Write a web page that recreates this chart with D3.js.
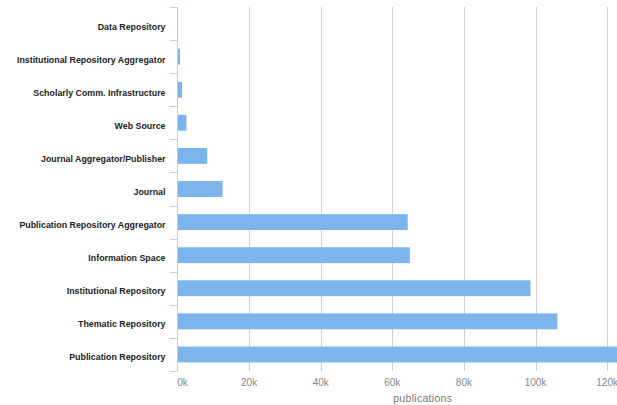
<!DOCTYPE html>
<html><head><meta charset="utf-8">
<script src="https://cdn.jsdelivr.net/npm/d3@7/dist/d3.min.js"></script>
<style>body{margin:0;background:#fff;overflow:hidden}svg{display:block}</style>
</head><body>
<svg id="c" width="617" height="405"></svg>
<script>
const categories = ["Data Repository","Institutional Repository Aggregator","Scholarly Comm. Infrastructure","Web Source","Journal Aggregator/Publisher","Journal","Publication Repository Aggregator","Information Space","Institutional Repository","Thematic Repository","Publication Repository"];
const values = [0,700,1250,2500,8300,12600,64300,64900,98600,106100,130000];
const xTicks = [0,20000,40000,60000,80000,100000,120000];
const xTickLabels = ["0k","20k","40k","60k","80k","100k","120k"];
const axisTitle = "publications";

(function(){
const svg = d3.select("#c");
const pL = 177.5, pR = 668, pT = 7, pB = 371;
const x = d3.scaleLinear().domain([0,137000]).range([pL,pR]);
const y = d3.scaleBand().domain(categories).range([pT,pB]).paddingInner(0.52).paddingOuter(0.26);

svg.append("g").selectAll("line").data(xTicks.slice(1)).join("line")
  .attr("x1",d=>Math.round(x(d))+0.5).attr("x2",d=>Math.round(x(d))+0.5)
  .attr("y1",pT).attr("y2",pB).attr("stroke","#d0d0d0").attr("stroke-width",1);

svg.append("g").selectAll("rect").data(categories).join("rect")
  .attr("x",x(0)).attr("y",d=>y(d))
  .attr("width",(d,i)=>Math.max(0,x(values[i])-x(0)))
  .attr("height",y.bandwidth())
  .attr("fill","#7cb5ec");

const bounds = categories.map((c,i)=>pT + i*(pB-pT)/categories.length).concat([pB]);
svg.append("line").attr("x1",pL).attr("x2",pL).attr("y1",pT).attr("y2",pB)
  .attr("stroke","#c0d0e0");
svg.append("g").selectAll("line").data(bounds).join("line")
  .attr("x1",pL-8).attr("x2",pL).attr("y1",d=>Math.round(d)+0.5).attr("y2",d=>Math.round(d)+0.5)
  .attr("stroke","#c0d0e0");

svg.append("g").selectAll("text").data(categories).join("text")
  .attr("x",165.5).attr("y",d=>y(d)+y.bandwidth()/2+6)
  .attr("text-anchor","end")
  .attr("font-family","Liberation Sans, Arial, sans-serif")
  .attr("font-size","8.85px").attr("font-weight","bold")
  .attr("fill","#222")
  .text(d=>d);

svg.append("g").selectAll("text").data(xTicks).join("text")
  .attr("x",(d,i)=> i===0 ? x(d)+5 : x(d))
  .attr("y",386)
  .attr("text-anchor","middle")
  .attr("font-family","Liberation Sans, Arial, sans-serif")
  .attr("font-size","10px").attr("fill","#888")
  .text((d,i)=>xTickLabels[i]);

svg.append("text").attr("x",(pL+pR)/2).attr("y",402)
  .attr("text-anchor","middle")
  .attr("font-family","Liberation Sans, Arial, sans-serif")
  .attr("font-size","10.5px").attr("letter-spacing","0.3px").attr("fill","#777")
  .text(axisTitle);
})();
</script>
</body></html>
